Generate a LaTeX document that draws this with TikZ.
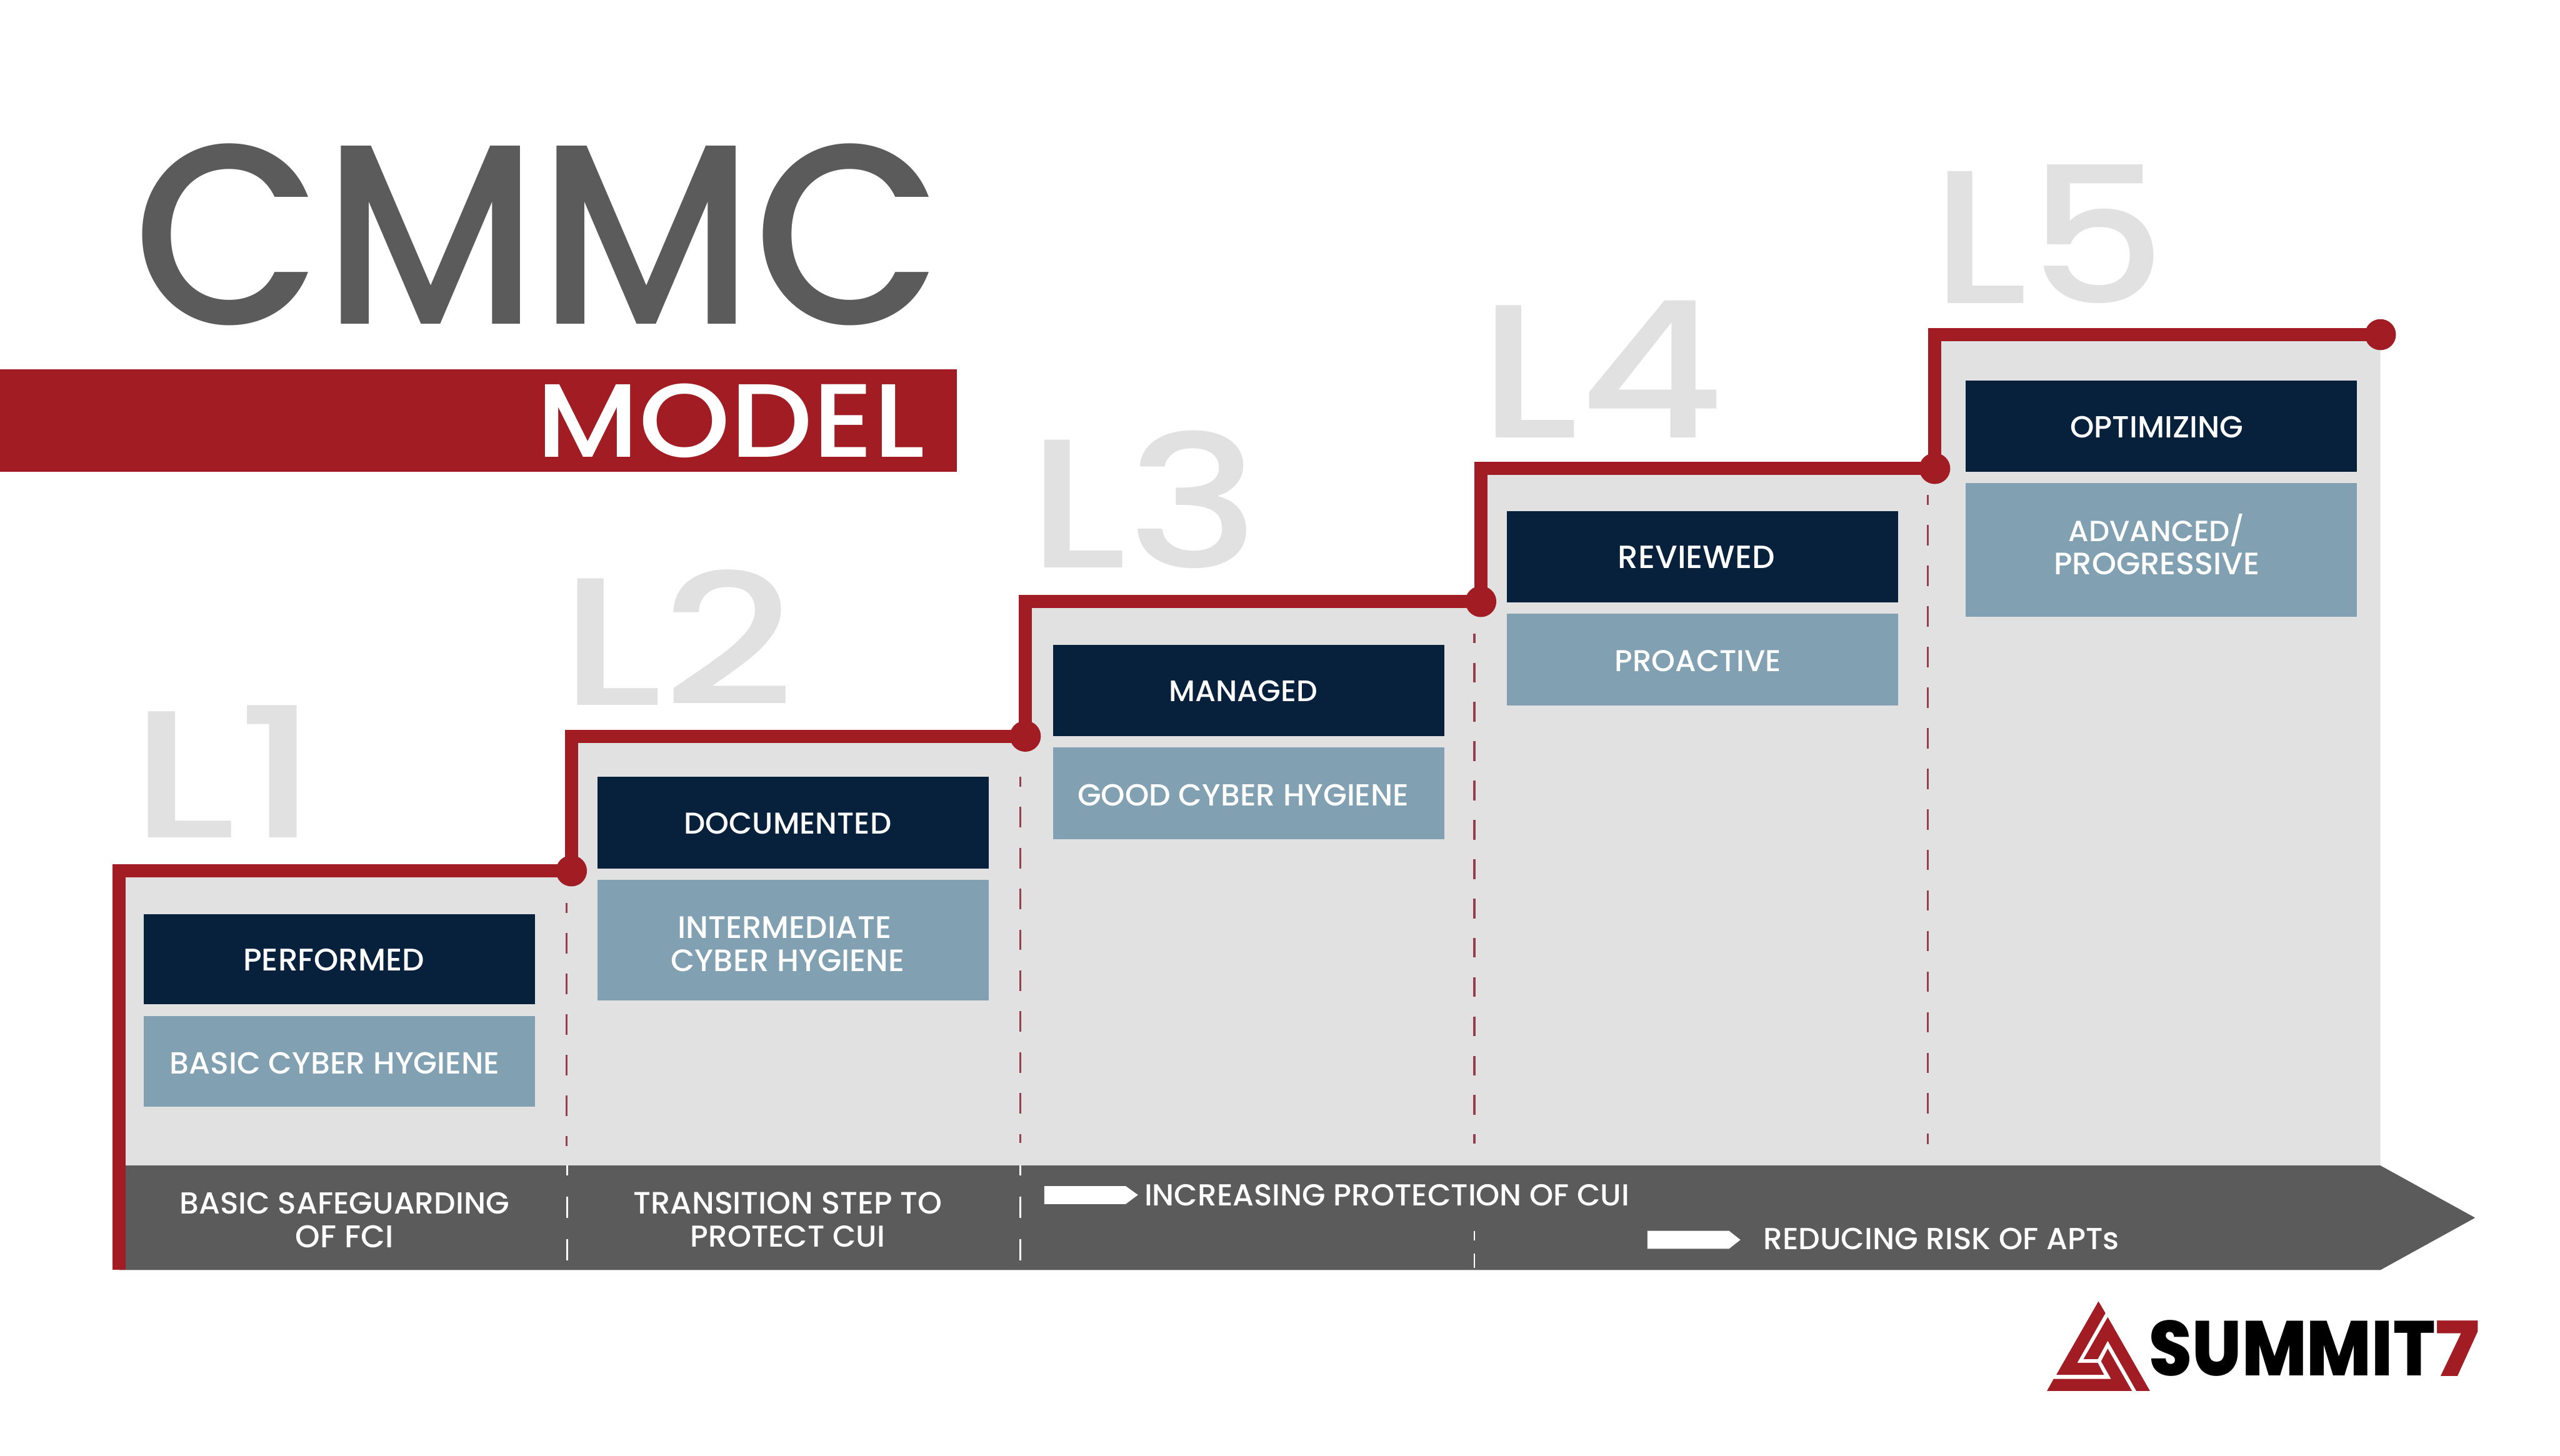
\documentclass[tikz,border=0pt]{standalone}
\usepackage{fontspec}
\usepackage{graphicx}
\setmainfont{Poppins}
\newfontfamily\labelfont{Poppins Medium}
\newfontfamily\titlefont{Poppins Medium}
\newfontfamily\heavyfont{Poppins ExtraBold}
\definecolor{s7red}{HTML}{A21D23}
\definecolor{s7gray}{HTML}{5B5B5B}
\definecolor{s7light}{HTML}{E1E1E1}
\definecolor{s7navy}{HTML}{07203C}
\definecolor{s7steel}{HTML}{81A1B3}
\definecolor{s7dash}{HTML}{953E50}
\tikzset{
  txt/.style={inner sep=0pt,outer sep=0pt,anchor=center,align=center},
  lbl/.style={txt,text=white,font=\fontsize{18}{18}\selectfont\labelfont},
  lvl/.style={txt,text=s7light,font=\fontsize{114}{114}\selectfont\titlefont},
  navybox/.style={fill=s7navy,draw=none},
  steelbox/.style={fill=s7steel,draw=none},
  stair/.style={draw=s7red,line width=8pt,miter limit=10},
  dot/.style={circle,fill=s7red,inner sep=0pt,minimum size=19pt},
  reddash/.style={draw=s7dash,line width=1.25pt},
  whitedash/.style={draw=white,line width=1pt},
  whitearrow/.style={fill=white,draw=none},
  logored/.style={fill=s7red,draw=none}
}
\newcommand{\lab}[5]{\node[lbl] (#1) at (#2,#3) {\resizebox{#4pt}{!}{#5}};}
\begin{document}
\begin{tikzpicture}[x=1pt,y=-1pt]
\useasboundingbox (0,0) rectangle (1568,891.7);
\fill[white] (0,0) rectangle (1568,891.7);
% title
\node[txt,text=s7gray] (title) at (329.8,143.7) {\resizebox{496pt}{110.5pt}{\titlefont CMMC}};
\fill[s7red] (0,226.3) rectangle (586,289);
\node[txt,text=white] (model) at (447.6,257.7) {\resizebox{238pt}{45pt}{\titlefont MODEL}};
% level numerals
\node[lvl] (L1) at (138,472.5) {\resizebox{116pt}{81pt}{L1}};
\node[lvl] (L2) at (415,390.5) {\resizebox{144pt}{83pt}{L2}};
\node[lvl] (L3) at (700.5,306) {\resizebox{142pt}{84pt}{L3}};
\node[lvl] (L4) at (981,226) {\resizebox{150pt}{84pt}{L4}};
\node[lvl] (L5) at (1255,143.5) {\resizebox{144pt}{85pt}{L5}};
% stair background
\fill[s7light] (73,714) -- (73,533.5) -- (350,533.5) -- (350,451) -- (628,451) -- (628,369) -- (907,369) -- (907,287) -- (1185,287) -- (1185,205) -- (1458,205) -- (1458,714) -- cycle;
% bottom bar
\fill[s7gray] (73,714) -- (1458,714) -- (1516,746) -- (1458,778) -- (73,778) -- cycle;
% dashed separators
\draw[reddash,dash pattern=on 12.6pt off 12.26pt,dash phase=6.5pt] (347,553.3) -- (347,701.9);
\draw[reddash,dash pattern=on 12.6pt off 12.46pt,dash phase=6.6pt] (625,475.8) -- (625,700);
\draw[reddash,dash pattern=on 12.1pt off 11.98pt,dash phase=6.1pt] (903,388) -- (903,700.5);
\draw[reddash,dash pattern=on 12.5pt off 12.36pt,dash phase=6.4pt] (1180.8,303.2) -- (1180.8,700.8);
\foreach \x in {347.3,625} {
  \draw[whitedash] (\x,714) -- (\x,720);
  \draw[whitedash] (\x,733) -- (\x,746);
  \draw[whitedash] (\x,759) -- (\x,772);
}
\draw[whitedash] (903,754) -- (903,760);
\draw[whitedash] (903,768) -- (903,776.6);
% boxes
\fill[navybox] (88,560) rectangle (327.5,615);
\fill[steelbox] (88,622.5) rectangle (327.5,678);
\fill[navybox] (366,476) rectangle (605.5,532);
\fill[steelbox] (366,539) rectangle (605.5,613);
\fill[navybox] (645,395) rectangle (884.5,451);
\fill[steelbox] (645,458) rectangle (884.5,514);
\fill[navybox] (923,313) rectangle (1162.5,369);
\fill[steelbox] (923,376) rectangle (1162.5,432);
\fill[navybox] (1204,233) rectangle (1443.5,289);
\fill[steelbox] (1204,296) rectangle (1443.5,378);
% stair line with dots
\node[dot] (d1) at (350,533.5) {};
\node[dot] (d2) at (628,451) {};
\node[dot] (d3) at (907,368.5) {};
\node[dot] (d4) at (1185,287) {};
\node[dot] (d5) at (1458,205) {};
\coordinate (start) at (73,778);
\draw[stair] (start) -- (73,533.5) -- (d1.center) -- (350,451) -- (d2.center) -- (628,368.5) -- (d3.center) -- (907,287) -- (d4.center) -- (1185,205) -- (d5.center);
% labels
\lab{a1}{204.5}{588}{111}{PERFORMED}
\lab{a2}{205}{651.5}{202}{BASIC CYBER HYGIENE}
\lab{b1}{482.5}{504.5}{127}{DOCUMENTED}
\lab{b2}{480.5}{568}{131}{INTERMEDIATE}
\lab{b3}{482.5}{588.5}{143}{CYBER HYGIENE}
\lab{c1}{761.5}{423.5}{91}{MANAGED}
\lab{c2}{761.5}{487}{203}{GOOD CYBER HYGIENE}
\lab{d1t}{1039}{341.5}{96}{REVIEWED}
\lab{d2t}{1040}{405}{102}{PROACTIVE}
\lab{e1}{1321}{261.5}{106}{OPTIMIZING}
\lab{e2}{1321}{325}{108}{ADVANCED/}
\lab{e3}{1321}{345.5}{126}{PROGRESSIVE}
\lab{f1}{211}{737}{202}{BASIC SAFEGUARDING}
\lab{f2}{211}{757.5}{60}{OF FCI}
\lab{g1}{482.5}{737}{189}{TRANSITION STEP TO}
\lab{g2}{482.5}{757.5}{119}{PROTECT CUI}
\lab{h1}{849.5}{732}{297}{INCREASING PROTECTION OF CUI}
\lab{h2}{1189}{759}{218}{REDUCING RISK OF APTs}
% progress arrows
\fill[whitearrow] (639.6,726.6) -- (689.5,726.6) -- (697,732) -- (689.5,737.6) -- (639.6,737.6) -- cycle;
\fill[whitearrow] (1009,754) -- (1059,754) -- (1066,759.5) -- (1059,765) -- (1009,765) -- cycle;
% logo
\begin{scope}[shift={(1232,768.2)},x=0.2034pt,y=-0.09663pt]
\fill[logored] (262,300) -- (283,375) -- (198,690) -- (260,690) -- (279,766) -- (135,766) -- cycle;
\fill[logored] (290,400) -- (417,868) -- (376,868) -- (290,550) -- (260,666) -- (217,666) -- cycle;
\fill[logored] (127,792) -- (300,792) -- (270,680) -- (290,600) -- (363,868) -- (107,868) -- cycle;
\end{scope}
\node[txt,text=black] (brand) at (1404,826) {\resizebox{175pt}{34pt}{\heavyfont SUMMIT}};
\node[txt,text=s7red] (seven) at (1505,826) {\resizebox{27pt}{34pt}{\heavyfont 7}};
\end{tikzpicture}
\end{document}
